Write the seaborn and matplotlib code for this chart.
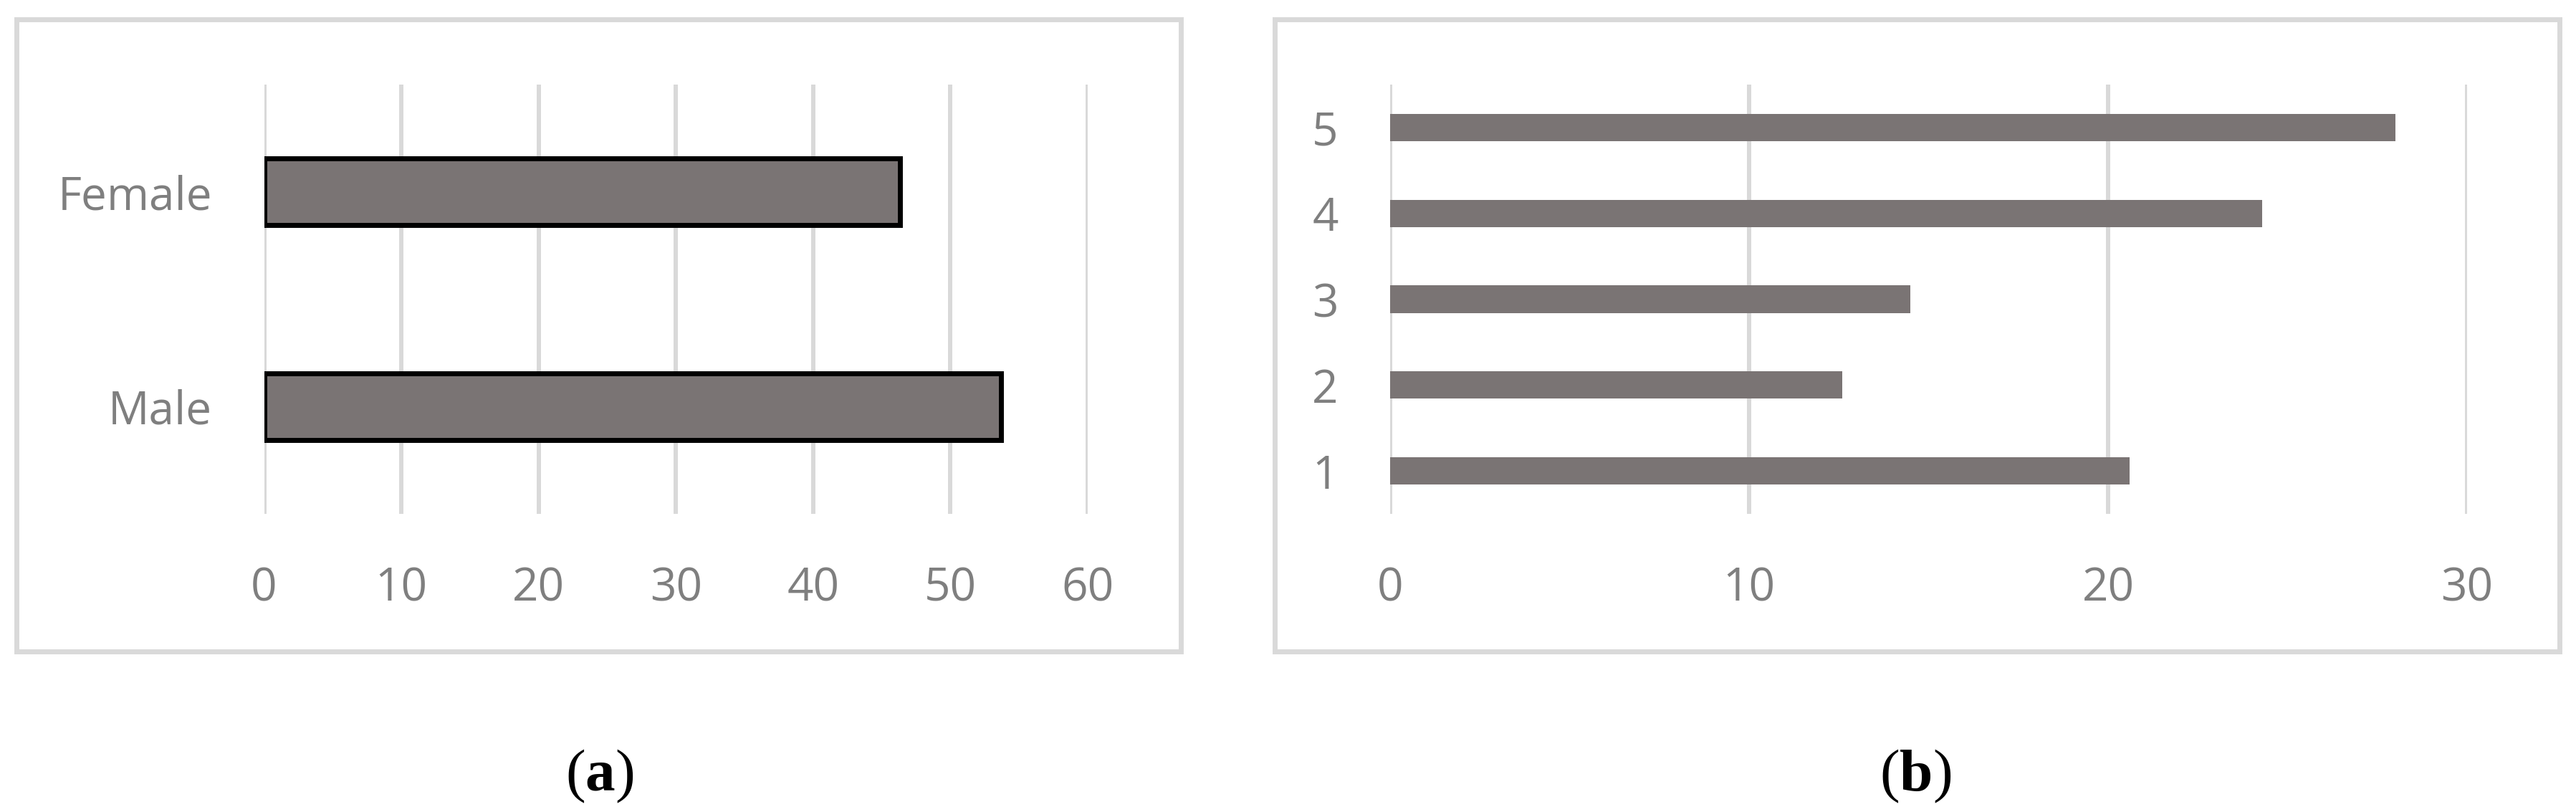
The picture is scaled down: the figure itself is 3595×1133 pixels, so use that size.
"""
Dos paneles de barras horizontales: (a) sexo, (b) categorías 1-5.
"""
import pandas as pd
import matplotlib.pyplot as plt
import matplotlib.patches as patches
import seaborn as sns

# Datos panel (a)
sexo = ['Female', 'Male']
porcentaje_sexo = [46.3, 53.7]

# Datos panel (b)
categorias = ['5', '4', '3', '2', '1']
porcentaje_cat = [28.0, 24.3, 14.5, 12.6, 20.6]

COLOR_BARRA = '#7a7474'
COLOR_GRIS = '#d9d9d9'
COLOR_TEXTO = '#7f7f7f'


def configurar_estilo():
    sns.set_theme(style="white")
    plt.rcParams['font.family'] = ['Open Sans', 'DejaVu Sans']
    plt.rcParams['mathtext.fontset'] = 'custom'
    plt.rcParams['mathtext.rm'] = 'Liberation Serif'
    plt.rcParams['mathtext.bf'] = 'Liberation Serif:bold'


def estilo_ejes(ax, xmax, paso):
    ax.set_xlim(0, xmax)
    ax.set_xticks(range(0, xmax + 1, paso))
    ax.set_xlabel('')
    ax.set_ylabel('')
    for s in ax.spines.values():
        s.set_visible(False)
    ax.grid(axis='x', color=COLOR_GRIS, linewidth=4.3)
    ax.grid(axis='y', visible=False)
    ax.set_axisbelow(True)
    ax.tick_params(length=0, pad=52, labelsize=46, labelcolor=COLOR_TEXTO)


configurar_estilo()
fig = plt.figure(figsize=(35.95, 11.33), dpi=100)

# Marcos de cada panel
for x0, x1 in [(23, 1648), (1779, 3572)]:
    fig.patches.append(patches.Rectangle(
        (x0 / 3595, 1 - 909 / 1133), (x1 - x0) / 3595, (909 - 27) / 1133,
        transform=fig.transFigure, facecolor='none', edgecolor=COLOR_GRIS,
        linewidth=5, zorder=0))

# Panel (a)
ax1 = fig.add_axes([368.5 / 3595, 1 - 717 / 1133, (1518 - 368.5) / 3595, 599 / 1133])
df_a = pd.DataFrame({'Sexo': sexo, 'Valor': porcentaje_sexo})
sns.barplot(data=df_a, x='Valor', y='Sexo', order=sexo, color=COLOR_BARRA,
            saturation=1, width=0.31, edgecolor='black', linewidth=5, ax=ax1)
estilo_ejes(ax1, 60, 10)

# Panel (b)
ax2 = fig.add_axes([1940 / 3595, 1 - 717 / 1133, (3443 - 1940) / 3595, 599 / 1133])
df_b = pd.DataFrame({'Categoria': categorias, 'Valor': porcentaje_cat})
sns.barplot(data=df_b, x='Valor', y='Categoria', order=categorias, color=COLOR_BARRA,
            saturation=1, width=0.32, linewidth=0, ax=ax2)
estilo_ejes(ax2, 30, 10)

# Etiquetas (a) y (b)
fig.text(837 / 3595, 1 - 1083 / 1133, r'($\mathbf{a}$)', family='Liberation Serif',
         fontsize=60, ha='center', va='center', color='black')
fig.text(2673 / 3595, 1 - 1083 / 1133, r'($\mathbf{b}$)', family='Liberation Serif',
         fontsize=60, ha='center', va='center', color='black')

fig.savefig('out.png', dpi=100, facecolor='white')
plt.close(fig)
